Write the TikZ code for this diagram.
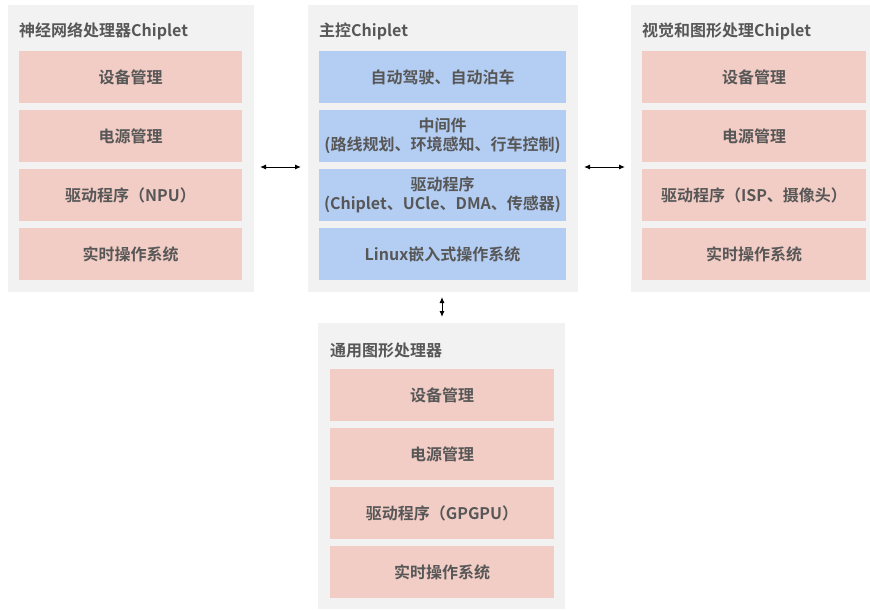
\documentclass[tikz,border=0pt]{standalone}
\usepackage{fontspec}
\setmainfont{Noto Sans CJK SC}[BoldFont={* Bold}]
\usetikzlibrary{arrows.meta}
\definecolor{contbg}{HTML}{F2F2F2}
\definecolor{pinkbox}{HTML}{F2CDC5}
\definecolor{bluebox}{HTML}{B4CDF2}
\definecolor{txtgray}{HTML}{575757}
\tikzset{
  cont/.style={fill=contbg, draw=none, inner sep=0pt},
  pk/.style={fill=pinkbox, draw=none, text=txtgray, font=\bfseries\fontsize{16}{19.5}\selectfont, align=center, inner sep=0pt},
  bl/.style={fill=bluebox, draw=none, text=txtgray, font=\bfseries\fontsize{16}{19.5}\selectfont, align=center, inner sep=0pt},
  ttl/.style={text=txtgray, font=\bfseries\fontsize{16}{19}\selectfont, anchor=west, inner sep=0pt},
  conn/.style={{Latex[length=6pt,width=5pt]}-{Latex[length=6pt,width=5pt]}, line width=1pt, black}
}
\begin{document}
\begin{tikzpicture}[x=1pt,y=-1pt]
\useasboundingbox (0,0) rectangle (870,610);
\fill[white] (0,0) rectangle (870,610);
% containers
\fill[contbg] (8,5) rectangle (254,292);
\fill[contbg] (308,5) rectangle (578,292);
\fill[contbg] (631,5) rectangle (870,292);
\fill[contbg] (318,323) rectangle (565,609);
\coordinate (Lc) at (254,167);
\coordinate (Mcl) at (308,167);
\coordinate (Mcr) at (578,167);
\coordinate (Rc) at (631,167);
\coordinate (Mb) at (442,292);
\coordinate (Bt) at (442,323);
% titles
\node[ttl] (t1) at (19,31) {神经网络处理器Chiplet};
\node[ttl] (t2) at (319,31) {主控Chiplet};
\node[ttl] (t3) at (642,31) {视觉和图形处理Chiplet};
\node[ttl] (t4) at (330,350) {通用图形处理器};
% left boxes
\node[pk, minimum width=223pt, minimum height=52pt] (l1) at (130.5,77) {设备管理};
\node[pk, minimum width=223pt, minimum height=52pt] (l2) at (130.5,136) {电源管理};
\node[pk, minimum width=223pt, minimum height=52pt] (l3) at (130.5,195) {驱动程序（NPU）};
\node[pk, minimum width=223pt, minimum height=52pt] (l4) at (130.5,254) {实时操作系统};
% middle boxes
\node[bl, minimum width=247pt, minimum height=52pt] (m1) at (442.5,77) {自动驾驶、自动泊车};
\node[bl, minimum width=247pt, minimum height=52pt] (m2) at (442.5,136) {中间件\\(路线规划、环境感知、行车控制)};
\node[bl, minimum width=247pt, minimum height=52pt] (m3) at (442.5,195) {驱动程序\\(Chiplet、UCle、DMA、传感器)};
\node[bl, minimum width=247pt, minimum height=52pt] (m4) at (442.5,254) {Linux嵌入式操作系统};
% right boxes
\node[pk, minimum width=224pt, minimum height=52pt] (r1) at (754,77) {设备管理};
\node[pk, minimum width=224pt, minimum height=52pt] (r2) at (754,136) {电源管理};
\node[pk, minimum width=224pt, minimum height=52pt] (r3) at (754,195) {驱动程序（ISP、摄像头）};
\node[pk, minimum width=224pt, minimum height=52pt] (r4) at (754,254) {实时操作系统};
% bottom boxes
\node[pk, minimum width=224pt, minimum height=52pt] (b1) at (442,395) {设备管理};
\node[pk, minimum width=224pt, minimum height=52pt] (b2) at (442,454) {电源管理};
\node[pk, minimum width=224pt, minimum height=52pt] (b3) at (442,513) {驱动程序（GPGPU）};
\node[pk, minimum width=224pt, minimum height=52pt] (b4) at (442,572) {实时操作系统};
% connectors
\draw[conn] ([xshift=6pt]Lc) -- ([xshift=-7pt]Mcl);
\draw[conn] ([xshift=6pt]Mcr) -- ([xshift=-6pt]Rc);
\draw[conn] ([yshift=-5pt]Mb) -- ([yshift=6pt]Bt);
\end{tikzpicture}
\end{document}
